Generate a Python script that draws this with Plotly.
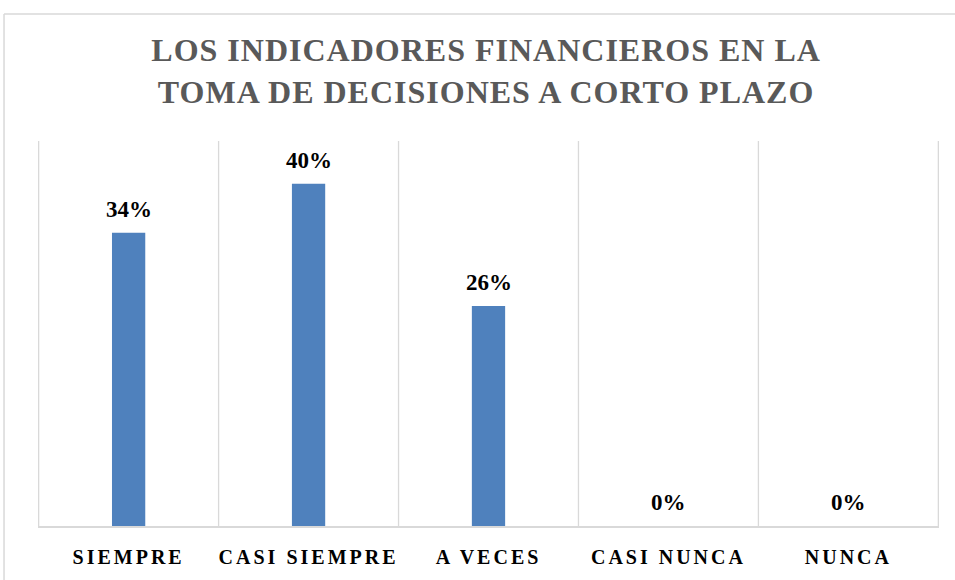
import plotly.graph_objects as go

categories = ["SIEMPRE", "CASI SIEMPRE", "A VECES", "CASI NUNCA", "NUNCA"]
values = [0.3429, 0.4000, 0.2571, 0.0, 0.0]
title_lines = ["LOS INDICADORES FINANCIEROS EN LA", "TOMA DE DECISIONES A CORTO PLAZO"]

BAR = "#4F81BD"
GRID = "#D9D9D9"
FONT = "Liberation Serif"

fig = go.Figure()
fig.add_trace(go.Bar(x=categories, y=values, marker=dict(color=BAR, line=dict(width=0)),
                     hoverinfo="skip"))

for c, v in zip(categories, values):
    fig.add_annotation(x=c, y=v, text="<b>%d%%</b>" % round(v * 100), showarrow=False,
                       yanchor="bottom", yshift=9,
                       font=dict(family=FONT, size=23, color="#000000"))

shapes = []
for i in range(len(categories) + 1):
    shapes.append(dict(type="line", xref="x", yref="paper", x0=i - 0.5, x1=i - 0.5,
                       y0=0, y1=1, line=dict(color=GRID, width=1.3), layer="below"))
# outer chart border (left and top)
shapes.append(dict(type="line", xref="paper", yref="paper", x0=-0.0377, x1=-0.0377,
                   y0=-0.2, y1=1.33, line=dict(color=GRID, width=1.5), layer="above"))
shapes.append(dict(type="line", xref="paper", yref="paper", x0=-0.0377, x1=1.03,
                   y0=1.33, y1=1.33, line=dict(color=GRID, width=1.5), layer="above"))

fig.update_layout(
    width=955, height=580,
    margin=dict(l=38, r=16, t=141, b=48),
    paper_bgcolor="white", plot_bgcolor="white",
    bargap=0.815,
    showlegend=False,
    title=dict(text="<b>" + "<br>".join(title_lines) + "</b>",
               x=0.509, xanchor="center", y=1 - 61 / 580, yanchor="top",
               font=dict(family=FONT, size=32, color="#595959")),
    xaxis=dict(showgrid=False, showline=True, linecolor=GRID, linewidth=1.5,
               ticks="", tickfont=dict(family=FONT, size=20, color="#000000"),
               ticklabelstandoff=12,
               tickprefix="<b>", ticksuffix="</b>", fixedrange=True),
    yaxis=dict(range=[0, 0.45], visible=False, fixedrange=True),
    shapes=shapes,
)

post = """
document.body.style.margin='0';
var gd = document.getElementById('{plot_id}');
function ls(){
  gd.querySelectorAll('.gtitle').forEach(function(e){e.style.letterSpacing='1px';});
  gd.querySelectorAll('.xtick text').forEach(function(e){e.style.letterSpacing='3px';});
}
ls();
gd.on('plotly_afterplot', ls);
"""
fig.write_html("out.html", post_script=post, config={"displayModeBar": False})
